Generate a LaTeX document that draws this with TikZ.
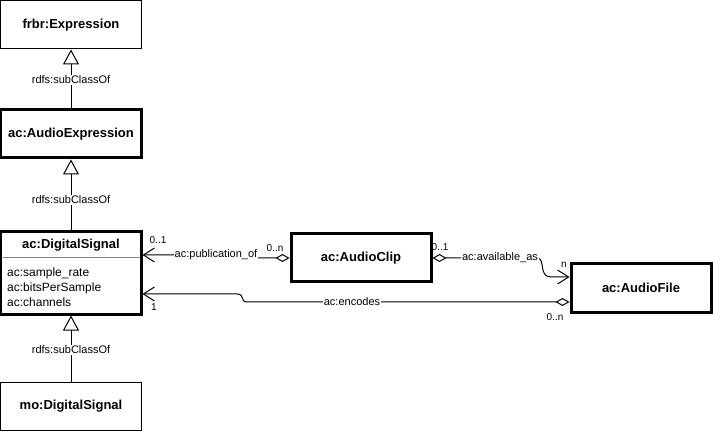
\documentclass[tikz,border=0pt]{standalone}
\usepackage{fontspec}
\setmainfont{Liberation Sans}
\usetikzlibrary{arrows.meta}
\tikzset{
  cls/.style={draw, minimum width=140bp, minimum height=48bp, inner sep=0pt,
    font=\fontsize{13bp}{15bp}\selectfont\bfseries},
  thin/.style={line width=1bp},
  thick3/.style={line width=3bp},
  lbl/.style={fill=white, inner sep=1bp, font=\fontsize{11bp}{13bp}\selectfont},
  mult/.style={inner sep=0pt, font=\fontsize{10bp}{12bp}\selectfont},
  attr/.style={anchor=west, inner sep=0pt, font=\fontsize{12bp}{14bp}\selectfont},
  gen/.style={line width=1bp, -{Triangle[open, length=15bp, width=16bp, line width=1bp]}},
  assoc/.style={line width=1bp, {Diamond[open, length=14bp, width=8bp, line width=1bp]}-{Straight Barb[length=11bp, width=14bp, line width=1bp]}}
}
\begin{document}
\begin{tikzpicture}[x=1bp, y=-1bp]
\useasboundingbox (0,0) rectangle (713,436);
% classes
\node[cls, thin] (frbr) at (71,25) {frbr:Expression};
\node[cls, thick3] (ae) at (71,134) {ac:AudioExpression};
\node[cls, thick3, minimum height=82bp] (ds) at (71,273) {};
\node[inner sep=0pt, font=\fontsize{13bp}{15bp}\selectfont\bfseries] (dst) at (71,245) {ac:DigitalSignal};
\draw[line width=1bp, gray] (2.5,258) -- (139.5,258);
\node[attr] (a1) at (7,273) {ac:sample\_rate};
\node[attr] (a2) at (7,288) {ac:bitsPerSample};
\node[attr] (a3) at (7,302) {ac:channels};
\node[cls, thin] (mo) at (71,406) {mo:DigitalSignal};
\node[cls, thick3] (ac) at (361,258) {ac:AudioClip};
\node[cls, thick3] (af) at (641,288) {ac:AudioFile};
% generalizations
\draw[gen] (ae.north) -- (frbr.south);
\node[lbl] (g1) at (71,80) {rdfs:subClassOf};
\draw[gen] (ds.north) -- (ae.south);
\node[lbl] (g2) at (71,200) {rdfs:subClassOf};
\draw[gen] (mo.north) -- (ds.south);
\node[lbl] (g3) at (71,350) {rdfs:subClassOf};
% publication_of
\draw[assoc] (ac.west) -- (222,258) -- (212,255) -- (ds.east |- 0,255);
\node[lbl] (l1) at (216,255) {ac:publication\_of};
\node[mult] (m1) at (158,240) {0..1};
\node[mult] (m2) at (275,248) {0..n};
% available_as
\draw[assoc] (ac.east) -- (537,258) .. controls (546,258) and (538,277) .. (551,277) -- (af.west |- 0,277);
\node[lbl] (l2) at (500,258) {ac:available\_as};
\node[mult] (m3) at (440,247) {0..1};
\node[mult] (m4) at (564,265) {n};
% encodes
\draw[assoc] (af.west |- 0,302) -- (247,302) .. controls (240,302) and (245,294) .. (237,294) -- (ds.east |- 0,294);
\node[lbl] (l3) at (352,302) {ac:encodes};
\node[mult] (m5) at (154,307) {1};
\node[mult] (m6) at (555,317) {0..n};
\end{tikzpicture}
\end{document}
